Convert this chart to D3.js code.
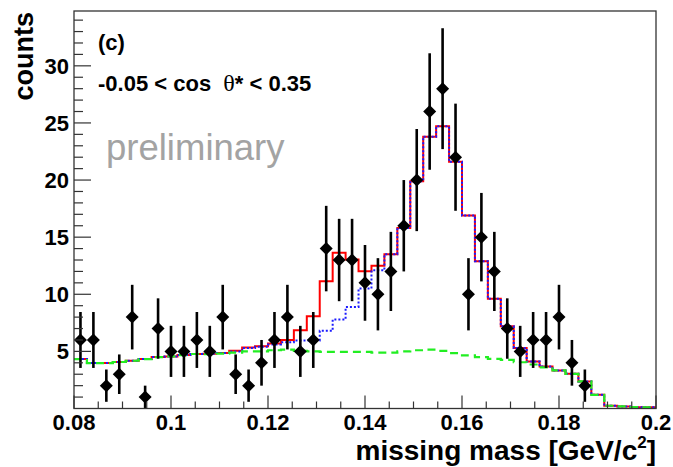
<!DOCTYPE html>
<html>
<head>
<meta charset="utf-8">
<script src="https://cdn.jsdelivr.net/npm/d3@7"></script>
<style>
  body { margin: 0; background: #fff; }
  text { font-family: "Liberation Sans", Arial, Helvetica, sans-serif; }
</style>
</head>
<body>
<svg id="chart" width="673" height="467"></svg>
<script>
// Binning of the missing-mass spectrum
const xMin = 0.08, xMax = 0.2, nBins = 45;

// Measured counts per bin (error bars are sqrt(N))
const counts = [6, 6, 2, 3, 8, 1, 7, 5, 5, 6, 5, 8, 3, 2, 4, 6, 8, 5, 6, 14, 13, 13, 11, 10, 12,
                16, 20, 26, 28, 22, 10, 15, 12, 7, 5, 6, 6, 8, 4, 2, 0, 0, 0, 0, 0];

// Total fit (signal + background), solid red
const totalFit = [4.33, 3.98, 3.98, 4.07, 4.18, 4.33, 4.5, 4.56, 4.68, 4.77, 4.8, 4.86, 5.06, 5.35, 5.44,
                  5.68, 6.0, 6.85, 8.07, 11.14, 13.63, 13.04, 12.02, 12.5, 13.5, 15.8, 19.9, 23.8, 24.7, 21.6,
                  16.9, 12.9, 9.6, 7.2, 5.3, 4.12, 3.68, 3.33, 3.04, 2.37, 1.2, 0.24, 0.18, 0.12, 0.1];

// Alternative fit, dotted blue
const altFit = [4.33, 3.98, 3.98, 4.07, 4.18, 4.33, 4.5, 4.56, 4.68, 4.77, 4.8, 4.86, 5.0, 5.3, 5.4,
                5.6, 5.8, 5.95, 5.95, 6.8, 7.8, 8.89, 10.5, 12.1, 13.5, 15.8, 19.9, 23.8, 24.7, 21.6,
                16.9, 12.9, 9.6, 7.2, 5.3, 4.12, 3.68, 3.33, 3.04, 2.37, 1.2, 0.24, 0.18, 0.12, 0.1];

// Background component, dashed green
const background = [4.33, 3.98, 3.98, 4.07, 4.18, 4.33, 4.5, 4.56, 4.68, 4.77, 4.75, 4.8, 4.9, 5.0, 5.0,
                    5.1, 5.15, 5.05, 5.0, 4.95, 4.95, 4.95, 4.95, 4.9, 4.9, 5.0, 5.1, 5.15, 5.05, 4.85,
                    4.65, 4.5, 4.35, 4.25, 4.05, 3.85, 3.6, 3.33, 3.04, 2.37, 1.2, 0.24, 0.18, 0.12, 0.1];

const xTickValues = [0.08, 0.1, 0.12, 0.14, 0.16, 0.18, 0.2];
const yTickValues = [5, 10, 15, 20, 25, 30];

const frame = { left: 74, right: 656, top: 11, bottom: 408.5 };
const svg = d3.select("#chart");

const x = d3.scaleLinear().domain([xMin, xMax]).range([frame.left, frame.right]);
const y = d3.scaleLinear().domain([0, 34.8]).range([frame.bottom, frame.top]);

const binWidth = (xMax - xMin) / nBins;
const edge = i => xMin + i * binWidth;
const center = i => xMin + (i + 0.5) * binWidth;

// Step outline of a binned curve
function stepPoints(vals) {
  const pts = vals.map((v, i) => [edge(i), v]);
  pts.push([edge(vals.length), vals[vals.length - 1]]);
  return pts;
}
const stepLine = d3.line().x(d => x(d[0])).y(d => y(d[1])).curve(d3.curveStepAfter);

const plot = svg.append("g");

plot.append("path").attr("d", stepLine(stepPoints(totalFit)))
  .attr("fill", "none").attr("stroke", "#ff0000").attr("stroke-width", 2);
plot.append("path").attr("d", stepLine(stepPoints(altFit)))
  .attr("fill", "none").attr("stroke", "#1a1aff").attr("stroke-width", 2)
  .attr("stroke-dasharray", "2,2");
plot.append("path").attr("d", stepLine(stepPoints(background)))
  .attr("fill", "none").attr("stroke", "#22ee22").attr("stroke-width", 2.2)
  .attr("stroke-dasharray", "8,5");

// Data points with Poisson error bars
const pts = counts.map((c, i) => ({ x: center(i), c })).filter(d => d.c > 0);
plot.selectAll("line.err").data(pts).join("line").attr("class", "err")
  .attr("x1", d => x(d.x)).attr("x2", d => x(d.x))
  .attr("y1", d => y(d.c - Math.sqrt(d.c))).attr("y2", d => y(Math.min(d.c + Math.sqrt(d.c), 34.8)))
  .attr("stroke", "#000").attr("stroke-width", 2.6);
plot.selectAll("path.pt").data(pts).join("path").attr("class", "pt")
  .attr("d", d => {
    const cx = x(d.x), cy = y(d.c), r = 6.5;
    return `M${cx},${cy - r}L${cx + r},${cy}L${cx},${cy + r}L${cx - r},${cy}Z`;
  })
  .attr("fill", "#000");

// Frame
svg.append("rect")
  .attr("x", frame.left).attr("y", frame.top)
  .attr("width", frame.right - frame.left).attr("height", frame.bottom - frame.top)
  .attr("fill", "none").attr("stroke", "#333").attr("stroke-width", 1.3);

// X axis ticks (inside the frame) and labels
const axisColor = "#333";
const xMinor = d3.range(0, 25).map(i => xMin + i * 0.005);
svg.append("g").selectAll("line").data(xMinor).join("line")
  .attr("x1", d => x(d)).attr("x2", d => x(d))
  .attr("y1", frame.bottom).attr("y2", (d, i) => frame.bottom - (i % 4 === 0 ? 13 : 7))
  .attr("stroke", axisColor).attr("stroke-width", 1.2);
svg.append("g").selectAll("text").data(xTickValues).join("text")
  .attr("x", d => x(d)).attr("y", 430)
  .attr("text-anchor", "middle").attr("font-size", 22).attr("font-weight", "bold")
  .text(d => String(+d.toFixed(2)));

// Y axis ticks and labels
const yMinor = d3.range(1, 35);
svg.append("g").selectAll("line").data(yMinor).join("line")
  .attr("x1", frame.left).attr("x2", d => frame.left + (d % 5 === 0 ? 17 : 9))
  .attr("y1", d => y(d)).attr("y2", d => y(d))
  .attr("stroke", axisColor).attr("stroke-width", 1.2);
svg.append("g").selectAll("text").data(yTickValues).join("text")
  .attr("x", 69).attr("y", d => y(d) + 8)
  .attr("text-anchor", "end").attr("font-size", 22).attr("font-weight", "bold")
  .text(d => d);

// Axis titles
const xTitle = svg.append("text")
  .attr("x", 656).attr("y", 460).attr("text-anchor", "end")
  .attr("font-size", 28).attr("font-weight", "bold");
xTitle.append("tspan").text("missing mass [GeV/c");
xTitle.append("tspan").attr("font-size", 17).attr("dy", -12).text("2");
xTitle.append("tspan").attr("dy", 12).text("]");

svg.append("text")
  .attr("transform", "translate(33,12) rotate(-90)")
  .attr("text-anchor", "end").attr("font-size", 27).attr("font-weight", "bold")
  .text("counts");

// Panel annotations
svg.append("text").attr("x", 98).attr("y", 50)
  .attr("font-size", 22).attr("font-weight", "bold").text("(c)");

const cut = svg.append("text").attr("x", 98).attr("y", 91)
  .attr("font-size", 22).attr("font-weight", "bold").style("white-space", "pre");
cut.append("tspan").text("-0.05 < cos  ");
cut.append("tspan").attr("font-family", "'Liberation Serif', 'Times New Roman', serif")
  .attr("font-weight", "normal").attr("font-size", 24).text("θ");
cut.append("tspan").text("* < 0.35");

svg.append("text").attr("x", 106).attr("y", 160)
  .attr("font-size", 36.5).attr("fill", "#a3a3a3").text("preliminary");
</script>
</body>
</html>
